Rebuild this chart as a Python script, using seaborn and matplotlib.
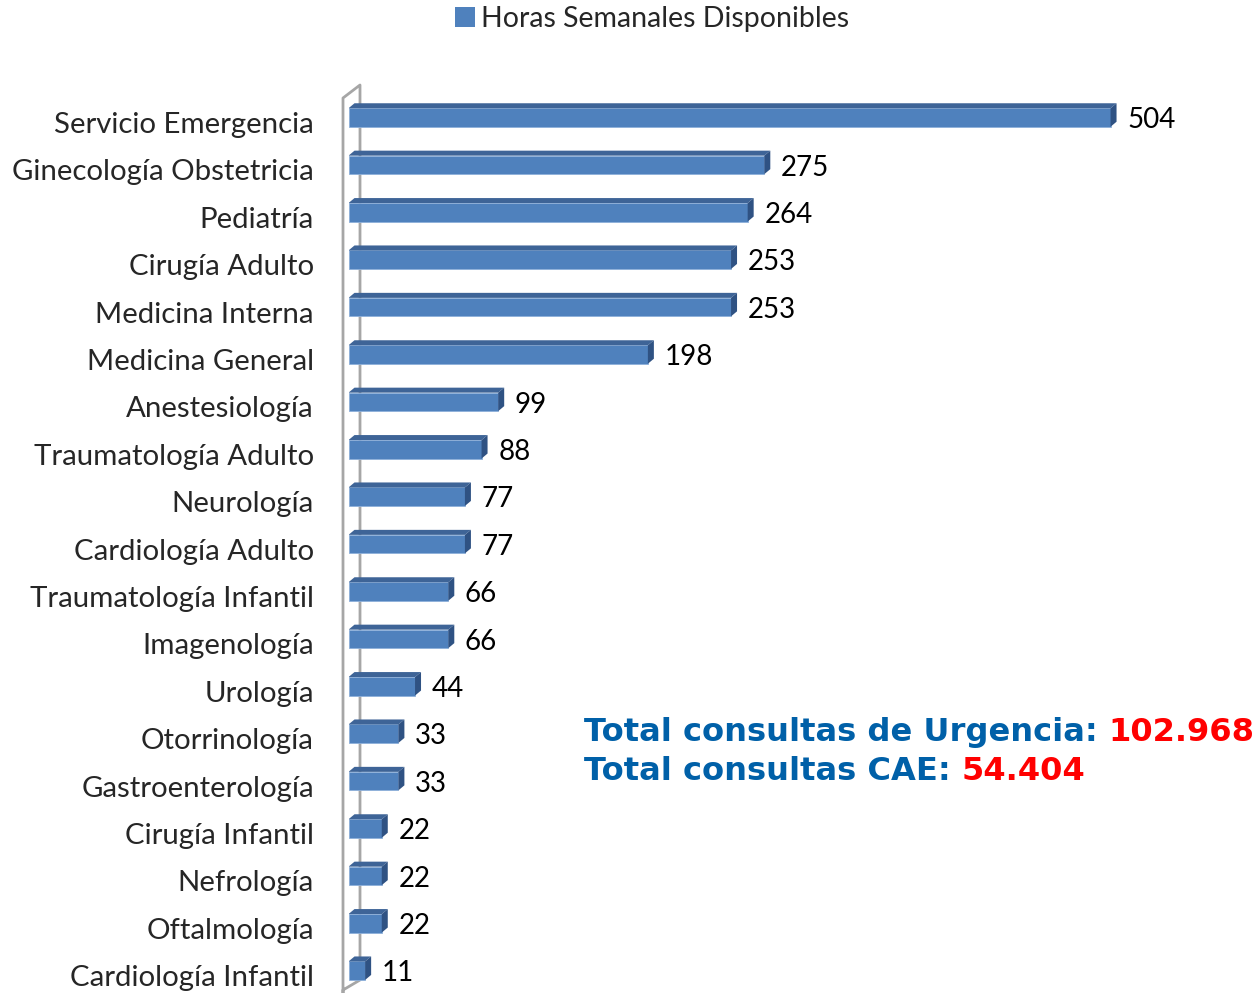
"""
Horas semanales disponibles por especialidad - barras horizontales con efecto 3D
"""

import pandas as pd
import numpy as np
import matplotlib
matplotlib.use('Agg')
import matplotlib.pyplot as plt
import matplotlib.transforms as mtransforms
from matplotlib.patches import Polygon, Patch
from matplotlib.lines import Line2D
import seaborn as sns

# Datos
servicios = [
    'Servicio Emergencia', 'Ginecología Obstetricia', 'Pediatría', 'Cirugía Adulto',
    'Medicina Interna', 'Medicina General', 'Anestesiología', 'Traumatología Adulto',
    'Neurología', 'Cardiología Adulto', 'Traumatología Infantil', 'Imagenología',
    'Urología', 'Otorrinología', 'Gastroenterología', 'Cirugía Infantil',
    'Nefrología', 'Oftalmología', 'Cardiología Infantil',
]
horas = [504, 275, 264, 253, 253, 198, 99, 88, 77, 77, 66, 66, 44, 33, 33, 22, 22, 22, 11]
serie = 'Horas Semanales Disponibles'
total_urgencia = '102.968'
total_cae = '54.404'

# Colores
FRONT = '#4F81BD'
TOP = '#3E6497'
SIDE = '#2F5283'
WALL = '#A6A6A6'
BLUE_TXT = '#0060A8'
RED_TXT = '#FF0000'

sns.set_style('white')
plt.rcParams['font.family'] = ['Lato', 'DejaVu Sans']

df = pd.DataFrame({'servicio': servicios, 'horas': horas})

W, H = 1258, 993
fig = plt.figure(figsize=(W / 100, H / 100), dpi=100)
ax_left = 348.5
ax_top = 85
ax = fig.add_axes([ax_left / W, 0, (W - ax_left) / W, (H - ax_top) / H])

sns.barplot(data=df, x='horas', y='servicio', orient='h', color=FRONT,
            saturation=1, width=0.39, ax=ax, zorder=3)

# escalas: px por unidad
px_x = 1.512
px_y = 47.4
xmax = (W - ax_left) / px_x
ax.set_xlim(0, xmax)
y_top = -(117.5 - ax_top) / px_y
y_bot = y_top + (H - ax_top) / px_y
ax.set_ylim(y_bot, y_top)

# efecto 3D: cara superior y lateral
dx = 6 / px_x
dy = 5 / px_y
for p in ax.patches:
    x0, y0 = p.get_x(), p.get_y()
    w, h = p.get_width(), p.get_height()
    top = Polygon([(x0, y0), (x0 + w, y0), (x0 + w + dx, y0 - dy), (x0 + dx, y0 - dy)],
                  closed=True, facecolor=TOP, edgecolor='none', zorder=3)
    side = Polygon([(x0 + w, y0), (x0 + w, y0 + h), (x0 + w + dx, y0 + h - dy), (x0 + w + dx, y0 - dy)],
                   closed=True, facecolor=SIDE, edgecolor='none', zorder=3)
    ax.add_patch(top)
    ax.add_patch(side)
    p.set_edgecolor('#8EB0DA')
    p.set_linewidth(0.6)

# etiquetas de valor (baseline ~10.8 px bajo el centro de la barra)
labels = ax.bar_label(ax.containers[0], padding=12, fontsize=20, color='black')
for t in labels:
    t.set_va('baseline')
    t.xyann = (12, -10.8 * 0.72)

# pared lateral (marco gris)
xo = (343 - ax_left) / px_x
xi = (360 - ax_left) / px_x
def yd(py):
    return y_top + (py - ax_top) / px_y
ax.add_line(Line2D([xo, xo, xi, xi, xo, xo], [yd(H + 5), yd(990), yd(980), yd(85), yd(98), yd(H + 5)],
                   color=WALL, lw=2, clip_on=False, zorder=1))

# ejes
sns.despine(ax=ax, left=True, bottom=True)
ax.set_xticks([])
ax.set_xlabel('')
ax.set_ylabel('')
ax.tick_params(axis='y', length=0, pad=25, labelsize=21.2)
offset = mtransforms.ScaledTranslation(0, -15.5 / 100, fig.dpi_scale_trans)
for lbl in ax.get_yticklabels():
    lbl.set_va('baseline')
    lbl.set_transform(lbl.get_transform() + offset)

# leyenda
fig.legend(handles=[Patch(facecolor=FRONT, edgecolor='none', label=serie)],
           loc='center', bbox_to_anchor=(652 / W, 1 - 19 / H), frameon=False,
           fontsize=20.5, handlelength=0.7, handleheight=0.7, handletextpad=0.2)

# totales
t1 = fig.text(584 / W, 1 - 741 / H, 'Total consultas de Urgencia: ', color=BLUE_TXT,
              fontsize=23.1, fontweight='bold', family='DejaVu Sans', va='baseline')
ax.annotate(total_urgencia, xy=(1, 0), xycoords=t1, va='bottom', ha='left',
            color=RED_TXT, fontsize=23.1, fontweight='bold', family='DejaVu Sans')
t2 = fig.text(584 / W, 1 - 780 / H, 'Total consultas CAE: ', color=BLUE_TXT,
              fontsize=23.1, fontweight='bold', family='DejaVu Sans', va='baseline')
ax.annotate(total_cae, xy=(1, 0), xycoords=t2, va='bottom', ha='left',
            color=RED_TXT, fontsize=23.1, fontweight='bold', family='DejaVu Sans')

plt.savefig('out.png', dpi=100)
